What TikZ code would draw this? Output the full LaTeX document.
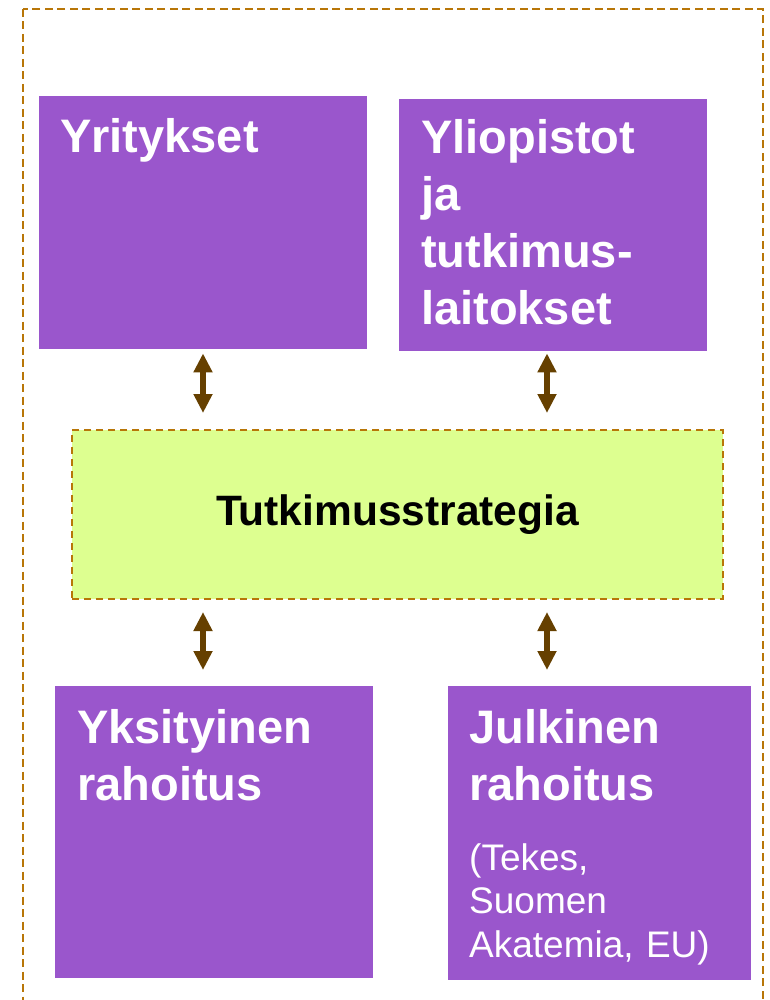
\documentclass[tikz,border=0pt]{standalone}
\usepackage{fontspec}
\setmainfont{Liberation Sans}
\usetikzlibrary{arrows.meta,calc}
\definecolor{boxpurple}{RGB}{154,86,204}
\definecolor{stratgreen}{RGB}{221,255,144}
\definecolor{dashbrown}{RGB}{184,118,8}
\definecolor{arrowbrown}{RGB}{102,64,0}
\begin{document}
\begin{tikzpicture}[x=1pt,y=-1pt,
  purplebox/.style={fill=boxpurple, draw=none, inner sep=0pt, anchor=north west},
  stratbox/.style={fill=stratgreen, draw=dashbrown, line width=2pt, dash pattern=on 7pt off 5pt, inner sep=0pt, anchor=north west},
  outerframe/.style={draw=dashbrown, line width=2.4pt, dash pattern=on 8pt off 4.5pt},
  titletext/.style={text=white, font=\bfseries\fontsize{47}{57}\selectfont, inner sep=0pt, anchor=base west, text width=300pt, align=left},
  notetext/.style={text=white, font=\fontsize{37}{43.5}\selectfont, inner sep=0pt, anchor=base west, text width=300pt, align=left},
  biarrow/.style={draw=arrowbrown, line width=6pt, {Triangle[width=18pt,length=19pt]}-{Triangle[width=18pt,length=19pt]}}
]
\useasboundingbox (0,0) rectangle (769,1000);
\draw[outerframe] (23,9) rectangle (763,1040);

\node[purplebox, minimum width=328pt, minimum height=253pt] (yrit) at (39,96) {};
\node[purplebox, minimum width=308pt, minimum height=252pt] (ylio) at (399,99) {};
\node[stratbox, minimum width=651pt, minimum height=169pt] (strat) at (71,429) {};
\node[purplebox, minimum width=318pt, minimum height=292pt] (yksi) at (55,686) {};
\node[purplebox, minimum width=303pt, minimum height=294pt] (julk) at (448,686) {};

\node[titletext] (yrittext) at ($(yrit.north west)+(21,57)$) {Yritykset};
\node[titletext] (yliotext) at ($(ylio.north west)+(22,55)$) {Yliopistot\\ja\\tutkimus-\\laitokset};
\node[text=black, font=\bfseries\fontsize{42.5}{50}\selectfont, inner sep=0pt] (strattext) at (strat.center) {Tutkimusstrategia};
\node[titletext] (yksitext) at ($(yksi.north west)+(22,57)$) {Yksityinen\\rahoitus};
\node[titletext] (julktext) at ($(julk.north west)+(21,57)$) {Julkinen\\rahoitus};
\node[notetext] (julknote) at ($(julk.north west)+(21,184)$) {(Tekes,\\Suomen\\Akatemia, EU)};

\coordinate (colL) at (203,0);
\coordinate (colR) at (547,0);
\draw[biarrow, shorten <=4pt, shorten >=16pt] (yrit.south -| colL) -- (strat.north -| colL);
\draw[biarrow, shorten <=2pt, shorten >=16pt] (ylio.south -| colR) -- (strat.north -| colR);
\draw[biarrow, shorten <=12pt, shorten >=16pt] (strat.south -| colL) -- (yksi.north -| colL);
\draw[biarrow, shorten <=12pt, shorten >=16pt] (strat.south -| colR) -- (julk.north -| colR);
\end{tikzpicture}
\end{document}
